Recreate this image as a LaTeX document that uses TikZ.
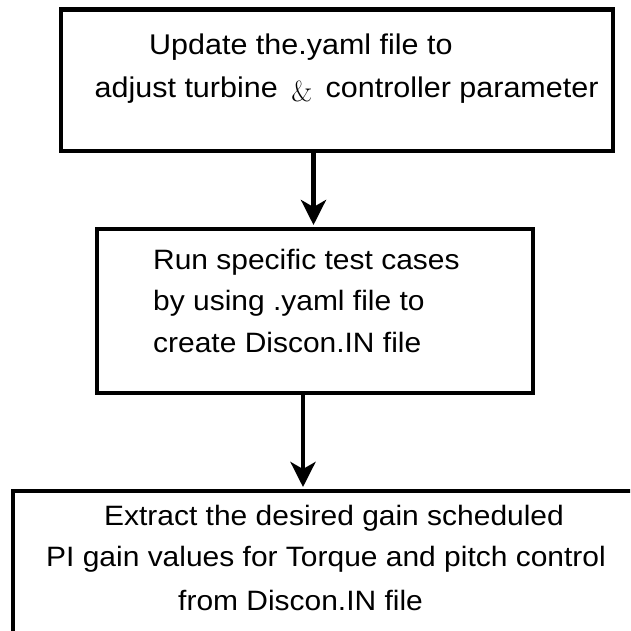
\documentclass[tikz,border=0pt]{standalone}
\usepackage{fontspec}
\setmainfont{Liberation Sans}[FakeStretch=1.07]
\newfontfamily\lmr{Latin Modern Roman}
\usetikzlibrary{arrows.meta}
\tikzset{
  box/.style={draw=black, line width=4.5pt, rectangle, inner sep=0pt, outer sep=0pt, fill=none},
  txt/.style={anchor=base west, inner sep=0pt, font=\fontsize{28}{32}\selectfont},
  txtw/.style={txt, font=\fontsize{28.5}{32}\selectfont},
  arr/.style={line width=4.3pt, -{Stealth[length=25pt, width=25pt, inset=7pt]}, shorten >=4pt}
}
\begin{document}
\begin{tikzpicture}[x=1pt, y=-1pt]
\useasboundingbox (0,0) rectangle (630,631);
\clip (0,0) rectangle (630,631);
\fill[white] (0,0) rectangle (630,631);
% boxes
\node[box, minimum width=552pt, minimum height=141.5pt] (b1) at (337,80.25) {};
\node[box, minimum width=436pt, minimum height=164pt] (b2) at (315,311) {};
\node[box, minimum width=687pt, minimum height=209pt] (b3) at (356.5,595.5) {};
% texts
\node[txtw] (t11) at (149,54.5) {Update the.yaml file to};
\node[txtw] (t12) at (94.5,97.5) {adjust turbine\hspace{5pt} {\lmr\fontsize{29}{29}\selectfont\raisebox{-4pt}{\&}}\hspace{5pt} controller parameter};
\node[txt] (t21) at (153,269.3) {Run specific test cases};
\node[txt] (t22) at (153,310) {by using .yaml file to};
\node[txt] (t23) at (153,352.7) {create Discon.IN file};
\node[txt] (t31) at (104,525) {Extract the desired gain scheduled};
\node[txt] (t32) at (46,566.7) {PI gain values for Torque and pitch control};
\node[txt] (t33) at (178,610) {from Discon.IN file};
% arrows
\coordinate (a1) at (313.5,0);
\coordinate (a2) at (303,0);
\draw[arr] (b1.south -| a1) -- (b2.north -| a1);
\draw[arr] (b2.south -| a2) -- (b3.north -| a2);
\end{tikzpicture}
\end{document}
